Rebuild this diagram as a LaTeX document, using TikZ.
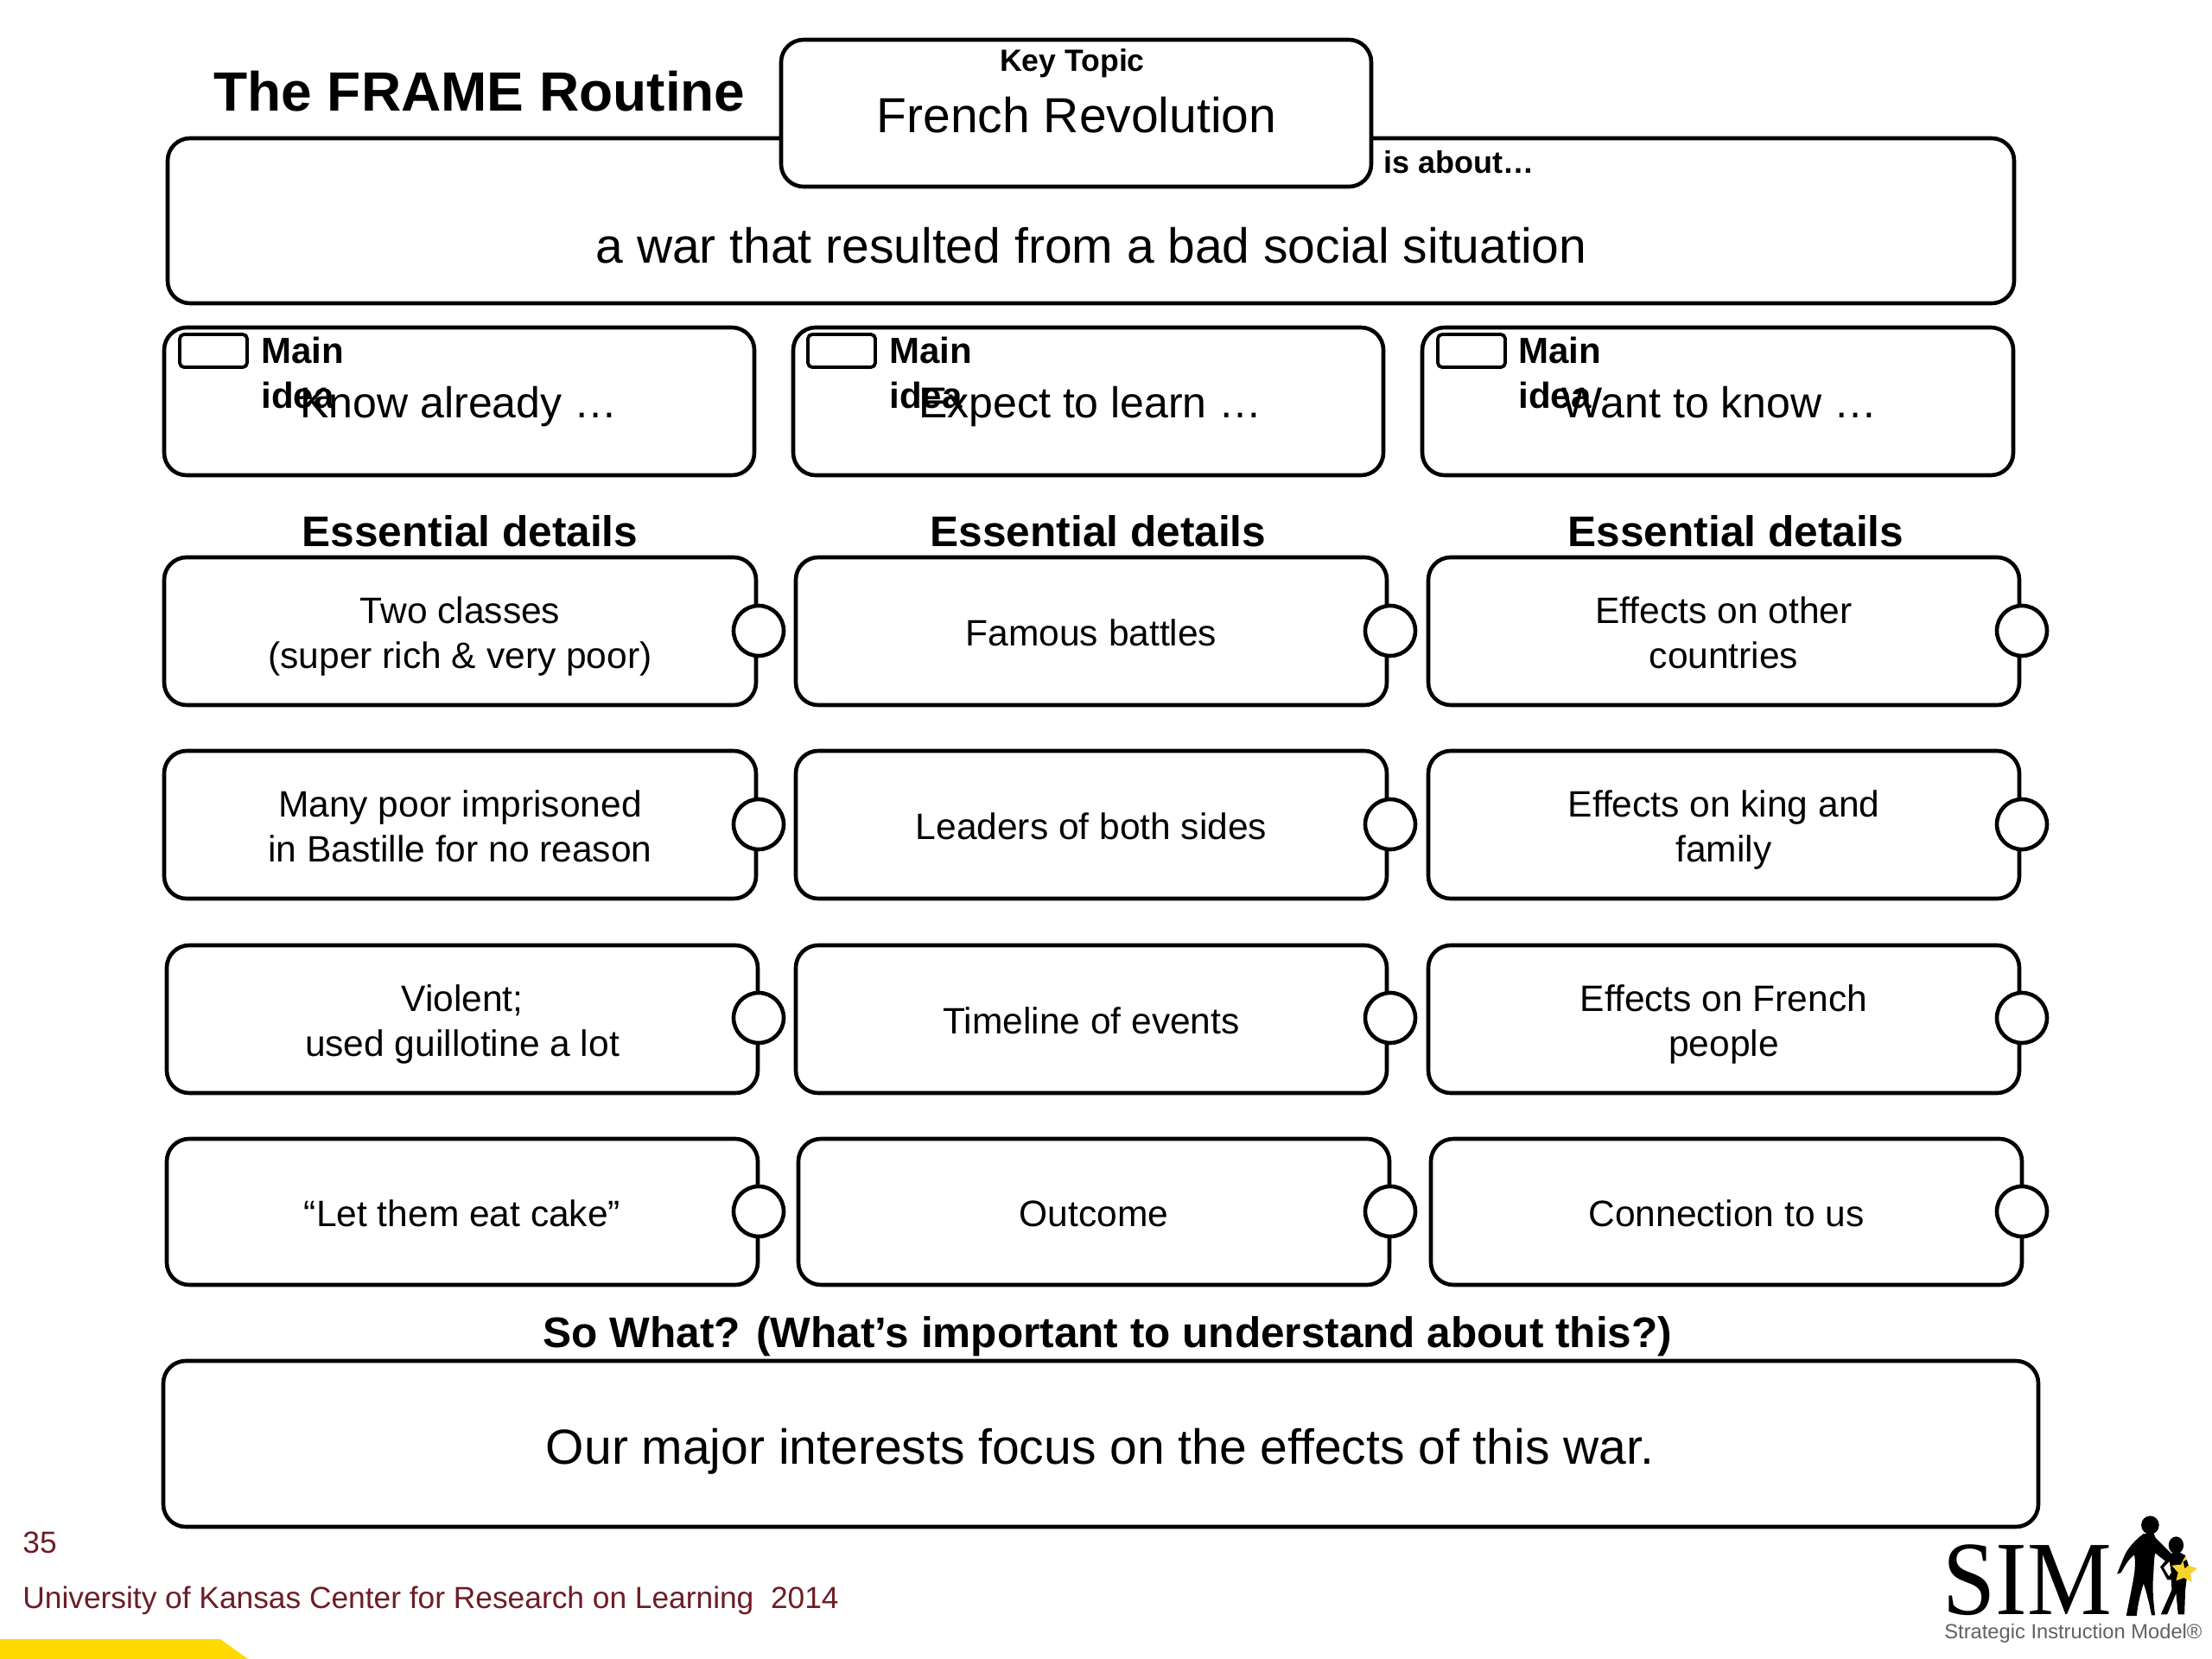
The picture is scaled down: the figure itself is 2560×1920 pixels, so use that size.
\documentclass[tikz,border=0pt]{standalone}
\usepackage{fontspec}
\setmainfont{Liberation Sans}
\newfontfamily\logoserif{Liberation Serif}
\definecolor{maroon}{HTML}{6E1C26}
\definecolor{simgold}{HTML}{FFD900}
\definecolor{stargold}{HTML}{F6D32D}
\newcommand{\fs}[2]{\fontsize{#1}{#2}\selectfont}
\newcommand{\st}{\rule[-.21em]{0pt}{.95em}}
\newcommand{\stb}{\rule[-.21em]{0pt}{1.2em}}
\newcommand{\rbox}[6]{%
  \pgfmathsetmacro{\bw}{(#4-#2)*0.5}\pgfmathsetmacro{\bh}{(#5-#3)*0.5}%
  \pgfmathsetmacro{\cx}{(#2+#4)/2}\pgfmathsetmacro{\cy}{(#3+#5)/2}%
  \node[rbx,minimum width=\bw pt,minimum height=\bh pt,font=\fs{21.25}{26}] (#1) at (\cx,\cy) {\stb#6\st};}
\tikzset{
  rbx/.style={draw=black,fill=white,line width=2.3pt,rounded corners=13pt,inner sep=0pt,align=center},
  lab/.style={inner sep=0pt,align=center,text=black},
  knob/.style={draw=black,fill=white,line width=2.3pt,circle,minimum size=29pt,inner sep=0pt},
  essential/.style={lab,font=\bfseries\fs{24.8}{30}},
  mainlab/.style={lab,align=left,anchor=west,font=\bfseries\fs{21}{26}},
  ideatext/.style={lab,font=\fs{25}{30}},
  foot/.style={inner sep=0pt,anchor=west,text=maroon,font=\fs{17.66}{22}},
}
\begin{document}
\begin{tikzpicture}[x=0.5pt,y=-0.5pt]
\useasboundingbox (0,0) rectangle (2560,1920);
\fill[white] (0,0) rectangle (2560,1920);
% yellow corner
\fill[simgold] (0,1897) -- (255,1897) -- (287,1920) -- (0,1920) -- cycle;
% title
\node[lab,font=\bfseries\fs{32}{38}] (title) at (555,112) {\st The FRAME Routine};
% statement and key topic
\rbox{about}{194}{160}{2331}{351}{}
\rbox{topic}{904}{46}{1587}{216}{}
\node[lab,font=\bfseries\fs{17.8}{22}] (keylab) at (1241,73) {\st Key Topic};
\node[lab,font=\fs{28.5}{34}] (keytext) at (1246,138) {\st French Revolution};
\node[lab,anchor=west,font=\bfseries\fs{18}{22}] (islab) at (1601,191) {\st is about\dots};
\node[lab,font=\fs{28.5}{33}] (abouttext) at (1263,289) {\st a war that resulted from a bad social situation};
% main ideas
\rbox{ideaA}{190}{379}{873}{550}{}
\rbox{ideaB}{918}{379}{1601}{550}{}
\rbox{ideaC}{1646}{379}{2330}{550}{}
\foreach \n/\x in {A/208,B/935,C/1664}{
  \draw[black,line width=1.9pt,rounded corners=2.5pt] (\x,387) rectangle (\x+78,425);
}
\node[mainlab] (mainA) at (302,431) {Main\\idea};
\node[mainlab] (mainB) at (1029,431) {Main\\idea};
\node[mainlab] (mainC) at (1757,431) {Main\\idea};
\node[ideatext] (ideaAt) at (531,470) {\st Know already \dots};
\node[ideatext] (ideaBt) at (1262,470) {\st Expect to learn \dots};
\node[ideatext] (ideaCt) at (1990,470) {\st Want to know \dots};
% essential details
\node[essential] (essA) at (544,619) {\st Essential details};
\node[essential] (essB) at (1271,619) {\st Essential details};
\node[essential] (essC) at (2009,619) {\st Essential details};
% details
\rbox{dA1}{190}{645}{875}{816}{Two classes\\(super rich \& very poor)}
\rbox{dB1}{921}{645}{1605}{816}{Famous battles}
\rbox{dC1}{1653}{645}{2337}{816}{Effects on other\\countries}
\rbox{dA2}{190}{869}{875}{1040}{Many poor imprisoned\\in Bastille for no reason}
\rbox{dB2}{921}{869}{1605}{1040}{Leaders of both sides}
\rbox{dC2}{1653}{869}{2337}{1040}{Effects on king and\\family}
\rbox{dA3}{193}{1094}{877}{1265}{Violent;\\used guillotine a lot}
\rbox{dB3}{921}{1094}{1605}{1265}{Timeline of events}
\rbox{dC3}{1653}{1094}{2337}{1265}{Effects on French\\people}
\rbox{dA4}{193}{1318}{877}{1487}{“Let them eat cake”}
\rbox{dB4}{924}{1318}{1608}{1487}{Outcome}
\rbox{dC4}{1656}{1318}{2340}{1487}{Connection to us}
% knobs
\foreach \r/\y in {1/730,2/954,3/1178,4/1402}{
  \node[knob] (kA\r) at (878,\y) {};
  \node[knob] (kB\r) at (1609,\y) {};
  \node[knob] (kC\r) at (2340,\y) {};
}
% so what
\node[lab,font=\bfseries\fs{24.75}{30}] (sowhat) at (1282,1546) {\st So What? (What’s important to understand about this?)};
\rbox{sobox}{189}{1575}{2359}{1767}{}
\node[lab,font=\fs{28.5}{34}] (sotext) at (1273,1679) {\st Our major interests focus on the effects of this war.};
% footer
\node[foot] (pagenum) at (26,1788) {\st 35};
\node[foot] (ku) at (26,1852) {\st University of Kansas Center for Research on Learning\ \ 2014};
% logo
\node[inner sep=0pt,anchor=base west,text=black,font=\logoserif\fs{61}{61}] (simword) at (2248,1868) {\scalebox{0.9}[1]{SIM}};
\node[inner sep=0pt,anchor=west,text=black!62,font=\fs{11.85}{14}] (simline) at (2250,1890) {Strategic Instruction Model®};
\begin{scope}[shift={(2100,1720)},x=0.1667pt,y=-0.1667pt]
  % adult
  \fill[black] (1165,135) ellipse [x radius=31,y radius=32];
  \fill[black] (1142,165) .. controls (1115,185) and (1085,215) .. (1072,250) -- (1050,305) -- (1064,300)
    .. controls (1080,270) and (1092,252) .. (1110,238) .. controls (1118,280) and (1105,330) .. (1098,370)
    -- (1082,450) -- (1118,450) .. controls (1122,410) and (1132,370) .. (1142,338)
    .. controls (1155,375) and (1163,415) .. (1170,448) -- (1182,448) .. controls (1176,400) and (1172,360) .. (1176,310)
    .. controls (1178,280) and (1178,255) .. (1182,232) -- (1228,268) -- (1244,240) -- (1184,180) -- (1178,165) -- cycle;
  % child
  \fill[black] (1255,205) ellipse [x radius=26,y radius=30];
  \fill[black] (1240,232) -- (1200,280) -- (1225,325) -- (1238,325) -- (1240,360) -- (1202,445) -- (1224,445)
    -- (1255,372) -- (1262,445) -- (1284,445) -- (1287,360) -- (1292,320) -- (1287,240) -- (1268,230) -- cycle;
  \fill[white] (1232,262) -- (1212,282) -- (1230,312) -- (1238,300) -- cycle;
  % star
  \fill[stargold] (1285,245) -- (1298,275) -- (1328,285) -- (1305,305) -- (1310,332) -- (1282,318) -- (1255,328) -- (1262,300) -- (1240,275) -- (1272,272) -- cycle;
  \fill[black] (1280,262) -- (1292,255) -- (1298,275) -- (1285,285) -- cycle;
\end{scope}
\end{tikzpicture}
\end{document}
